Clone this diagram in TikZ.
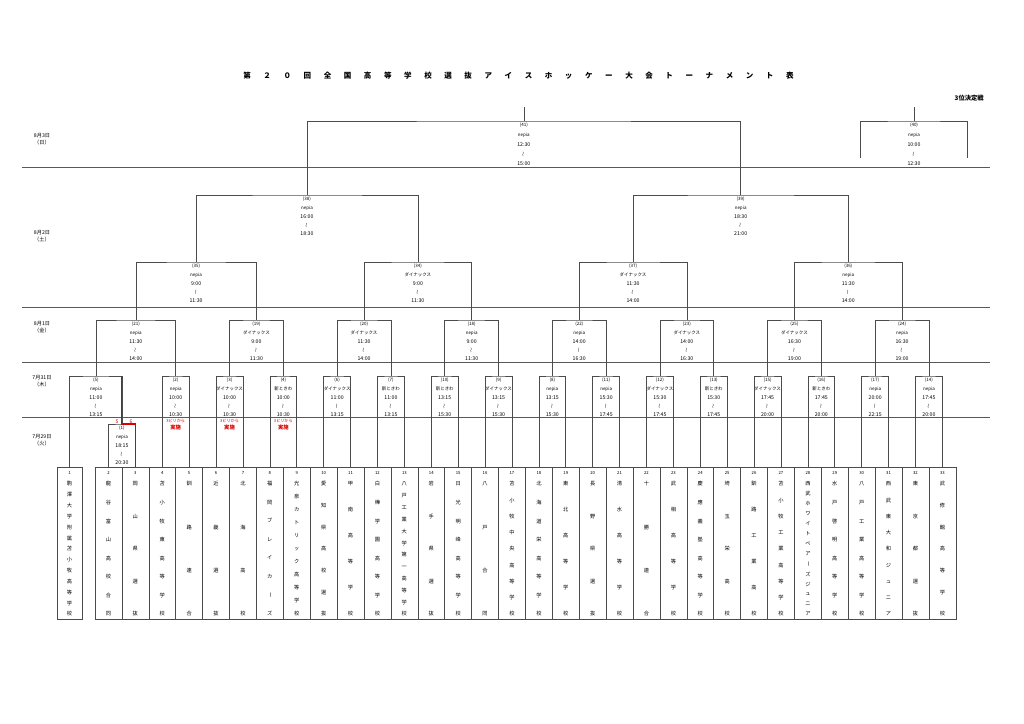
\documentclass[tikz,border=0pt]{standalone}
\usepackage{fontspec}
\setmainfont{Noto Sans CJK JP}
\usepackage{graphicx}

\newcommand\tbar{\rotatebox[origin=c]{-90}{ー}}
\newcommand\kara{\rotatebox[origin=c]{90}{～}}
\newcommand\jk[1]{{\fontsize{4.3}{7}\selectfont #1}}
\newcommand\waku[4]{(#1)\\#2\\\jk{#3}\\\kara\\\jk{#4}}
\def\tateloop#1#2{\hbox to 0pt{\hss\rule[-0.18mm]{0pt}{1.48mm}#1\hss}%
  \ifx\relax#2\else\vfill\expandafter\tateloop\expandafter#2\fi}
\newcommand\tate[2]{\vbox to 44.08mm{\fontsize{4.3}{5}\selectfont
  \baselineskip=0pt\lineskip=0pt\lineskiplimit=0pt
  \vskip1.3mm\hbox to 0pt{\hss\fontsize{3.5}{4}\selectfont#1\hss}%
  \vskip2mm\expandafter\tateloop#2\relax\vskip0.74mm}}
\def\yokoloop#1#2{#1\ifx\relax#2\else\hskip3.65mm\expandafter\yokoloop\expandafter#2\fi}

\begin{document}
\begin{tikzpicture}[x=0.29mm, y=-0.29mm,
  brk/.style={draw=black!70, line width=0.45pt},
  win/.style={draw=red!85!black, line width=0.9pt},
  rowline/.style={draw=black!65, line width=0.45pt},
  team/.style={draw=black!70, line width=0.45pt, rectangle, inner sep=0pt,
    minimum width=7.8mm, minimum height=44.08mm},
  game/.style={anchor=north, yshift=-0.55mm, align=center, inner sep=0pt,
    font=\fontsize{3.7}{7.1}\selectfont},
  day/.style={align=center, inner sep=0pt, font=\fontsize{4.3}{5.5}\selectfont},
  note/.style={align=center, inner sep=0pt, text=red!85!black,
    font=\fontsize{3.4}{5}\selectfont},
  score/.style={inner sep=0pt, text=red!85!black, font=\fontsize{4.2}{5}\selectfont}]
\useasboundingbox (0,0) rectangle (1024,724);

% title
\node[font=\fontsize{6.2}{7}\selectfont\bfseries] (hdr) at (518.5,76)
  {\yokoloop 第２０回全国高等学校選抜アイスホッケー大会トーナメント表\relax};
\node[anchor=east, font=\fontsize{5.2}{6}\selectfont\bfseries] (sanni) at (988,98) {3位決定戦};

% days
\node[day] (d83) at (42,139.5) {8月3日\\（日）};
\node[day] (d82) at (42,236) {8月2日\\（土）};
\node[day] (d81) at (42,327) {8月1日\\（金）};
\node[day] (d731) at (42,381.5) {7月31日\\（木）};
\node[day] (d729) at (42,440) {7月29日\\（火）};
\foreach \y in {167,307,362,417}
  \path[rowline] (22,\y) -- (990,\y);

% teams
\node[team, minimum width=7.25mm] (t1) at (69.5,543) {\tate{1}{駒澤大学附属苫小牧高等学校}};
\foreach \k/\name in {2/龍谷富山高校合同, 3/岡山県選抜, 4/苫小牧東高等学校, 5/釧路連合,
    6/近畿選抜, 7/北海高校, 8/福岡ブレイカ\tbar ズ, 9/光泉カトリック高等学校,
    10/愛知県高校選抜, 11/甲南高等学校, 12/白樺学園高等学校, 13/八戸工業大学第一高等学校,
    14/岩手県選抜, 15/日光明峰高等学校, 16/八戸合同, 17/苫小牧中央高等学校,
    18/北海道栄高等学校, 19/東北高等学校, 20/長野県選抜, 21/清水高等学校,
    22/十勝連合, 23/武相高等学校, 24/慶應義塾高等学校, 25/埼玉栄高校,
    26/釧路工業高校, 27/苫小牧工業高等学校, 28/西武ホワイトベア\tbar ズジュニア,
    29/水戸啓明高等学校, 30/八戸工業高等学校, 31/西武東大和ジュニア,
    32/東京都選抜, 33/武修館高等学校}
  \node[team] (t\k) at ({108.45+26.9*(\k-2)},543) {\tate{\k}{\name}};

% games
\foreach \g/\x/\y/\v/\s/\e in {1/121.9/424/nepia/18:15/20:30,
    5/95.9/376/nepia/11:00/13:15, 2/175.7/376/nepia/10:00/10:30,
    3/229.55/376/ダイナックス/10:00/10:30, 4/283.35/376/新ときわ/10:00/10:30,
    6/337.15/376/ダイナックス/11:00/13:15, 7/390.95/376/新ときわ/11:00/13:15,
    10/444.75/376/新ときわ/13:15/15:30, 9/498.55/376/ダイナックス/13:15/15:30,
    8/552.35/376/nepia/13:15/15:30, 11/606.15/376/nepia/15:30/17:45,
    12/659.95/376/ダイナックス/15:30/17:45, 13/713.75/376/新ときわ/15:30/17:45,
    15/767.55/376/ダイナックス/17:45/20:00, 16/821.35/376/新ときわ/17:45/20:00,
    17/875.15/376/nepia/20:00/22:15, 14/928.95/376/nepia/17:45/20:00,
    21/135.8/320/nepia/11:30/14:00, 19/256.45/320/ダイナックス/9:00/11:30,
    20/364.05/320/ダイナックス/11:30/14:00, 18/471.65/320/nepia/9:00/11:30,
    22/579.25/320/nepia/14:00/16:30, 23/686.85/320/ダイナックス/14:00/16:30,
    25/794.45/320/ダイナックス/16:30/19:00, 24/902.05/320/nepia/16:30/19:00,
    35/196.1/262/nepia/9:00/11:30, 34/417.85/262/ダイナックス/9:00/11:30,
    37/633.05/262/ダイナックス/11:30/14:00, 36/848.25/262/nepia/11:30/14:00,
    38/306.975/195/nepia/16:00/18:30, 39/740.65/195/nepia/18:30/21:00}
  {\coordinate (g\g) at (\x,\y);
   \node[game] (n\g) at (g\g) {\waku{\g}{\v}{\s}{\e}};}
\coordinate (g41) at (523.8,121);
\coordinate (g40) at (914,121);
\node[game, font=\fontsize{3.7}{8}\selectfont] (n41) at (g41) {\waku{41}{nepia}{12:30}{15:00}};
\node[game, font=\fontsize{3.7}{8}\selectfont] (n40) at (g40) {\waku{40}{nepia}{10:00}{12:30}};

% brackets
\foreach \a/\g/\b in {2/1/3, 4/2/5, 6/3/7, 8/4/9, 10/6/11, 12/7/13, 14/10/15, 16/9/17,
    18/8/19, 20/11/21, 22/12/23, 24/13/25, 26/15/27, 28/16/29, 30/17/31, 32/14/33}
  \path[brk] (t\a.north) |- (g\g) -| (t\b.north);
\path[brk] (t1.north) |- (g5) -| (g1);
\foreach \a/\g/\b in {g5/g21/g2, g3/g19/g4, g6/g20/g7, g10/g18/g9, g8/g22/g11,
    g12/g23/g13, g15/g25/g16, g17/g24/g14, g21/g35/g19, g20/g34/g18, g22/g37/g23,
    g25/g36/g24, g35/g38/g34, g37/g39/g36, g38/g41/g39}
  \path[brk] (\a) |- (\g) -| (\b);
\coordinate (top41) at (523.8,107);
\coordinate (top40) at (914,107);
\coordinate (l40) at (860.7,157.7);
\coordinate (r40) at (967.3,157.7);
\path[brk] (g41) -- (top41);
\path[brk] (l40) |- (g40) -| (r40);
\path[brk] (g40) -- (top40);

% result of game 1
\path[win] (t3.north) |- (g1) -- (g1 |- g5);
\node[score] (p5) at (117,421.5) {5};
\node[score] (p6) at (131,421.5) {6};
\node[note] (r2) at (175.7,424.5) {3ピリから\\[1.2pt]{\fontsize{4.4}{5}\selectfont\bfseries 実施}};
\node[note] (r3) at (229.55,424.5) {3ピリから\\[1.2pt]{\fontsize{4.4}{5}\selectfont\bfseries 実施}};
\node[note] (r4) at (283.35,424.5) {3ピリから\\[1.2pt]{\fontsize{4.4}{5}\selectfont\bfseries 実施}};
\end{tikzpicture}
\end{document}
